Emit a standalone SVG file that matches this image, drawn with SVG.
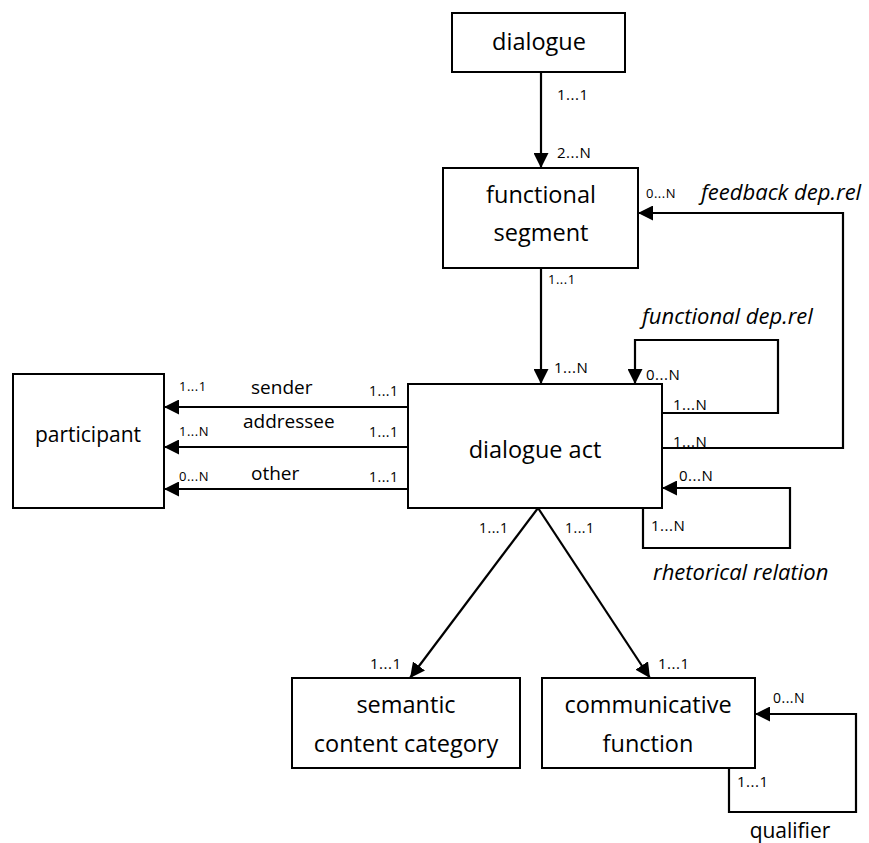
<svg xmlns="http://www.w3.org/2000/svg" width="869" height="843" viewBox="0 0 869 843">
<style>
text{font-family:"Open Sans","Liberation Sans",sans-serif;fill:#000}
.box{fill:#fff;stroke:#000;stroke-width:2}
.lbl{font-size:23.5px;text-anchor:middle}
.rel{font-size:19px}
.it{font-size:22px;font-style:italic}
.s14{font-size:15px;letter-spacing:0.5px}
.s13{font-size:14px;letter-spacing:0.5px}
.s12{font-size:13px;letter-spacing:0.5px}
.con path{fill:none;stroke:#000;stroke-width:2.2;marker-end:url(#ah)}
</style>
<defs>
<marker id="ah" markerUnits="userSpaceOnUse" markerWidth="15" markerHeight="15" refX="15" refY="7.5" orient="auto" viewBox="0 0 15 15">
<path d="M0,0 L15,7.5 L0,15 z" fill="#000"/>
</marker>
</defs>
<g id="dialogue"><rect class="box" x="452" y="13" width="173" height="59"/><text class="lbl" x="539" y="50">dialogue</text></g>
<g id="functional-segment"><rect class="box" x="443" y="168" width="195" height="100"/><text class="lbl" x="541" y="203">functional</text><text class="lbl" x="541" y="241">segment</text></g>
<g id="dialogue-act"><rect class="box" x="408" y="384" width="254" height="124"/><text class="lbl" x="535" y="458">dialogue act</text></g>
<g id="participant"><rect class="box" x="13" y="374" width="151" height="134"/><text class="lbl" style="font-size:21px" x="88" y="442">participant</text></g>
<g id="semantic-content-category"><rect class="box" x="292" y="678" width="228" height="90"/><text class="lbl" x="406" y="713">semantic</text><text class="lbl" x="406" y="752">content category</text></g>
<g id="communicative-function"><rect class="box" x="542" y="678" width="213" height="90"/><text class="lbl" x="648" y="713">communicative</text><text class="lbl" x="648" y="752">function</text></g>
<g id="connectors" class="con">
<path d="M541,72 V168"/>
<path d="M541,268 V384"/>
<path d="M662,448 H843 V213 H638"/>
<path d="M662,413 H778 V340 H635 V384"/>
<path d="M643,508 V548 H790 V488 H662"/>
<path d="M408,407 H164"/>
<path d="M408,447 H164"/>
<path d="M408,489 H164"/>
<path d="M538,508 L410,678"/>
<path d="M538,508 L650,678"/>
<path d="M729,768 V812 H856 V714 H755"/>
</g>
<g id="labels">
<text class="s14" x="557" y="100">1...1</text>
<text class="s14" x="557" y="158">2...N</text>
<text class="s12" x="646" y="198">0...N</text>
<text class="it" x="701" y="200">feedback dep.rel</text>
<text class="s12" x="548" y="284">1...1</text>
<text class="s14" x="554" y="373">1...N</text>
<text class="it" x="642" y="324">functional dep.rel</text>
<text class="s14" x="646" y="380">0...N</text>
<text class="s14" x="673" y="410">1...N</text>
<text class="s14" x="673" y="447">1...N</text>
<text class="s14" x="679" y="481">0...N</text>
<text class="s14" x="651" y="531">1...N</text>
<text class="it" x="653" y="580">rhetorical relation</text>
<text class="s12" x="179" y="391">1...1</text>
<text class="s12" x="179" y="436">1...N</text>
<text class="s12" x="179" y="481">0...N</text>
<text class="s13" x="369" y="396">1...1</text>
<text class="s13" x="369" y="437">1...1</text>
<text class="s13" x="369" y="482">1...1</text>
<text class="rel" x="251" y="394">sender</text>
<text class="rel" x="243" y="428">addressee</text>
<text class="rel" x="251" y="480">other</text>
<text class="s13" x="479" y="533">1...1</text>
<text class="s13" x="565" y="533">1...1</text>
<text class="s14" x="370" y="669">1...1</text>
<text class="s14" x="658" y="669">1...1</text>
<text class="s13" x="773" y="703">0...N</text>
<text class="s14" x="737" y="787">1...1</text>
<text class="rel" style="font-size:21px;text-anchor:middle" x="790" y="838">qualifier</text>
</g>
</svg>
